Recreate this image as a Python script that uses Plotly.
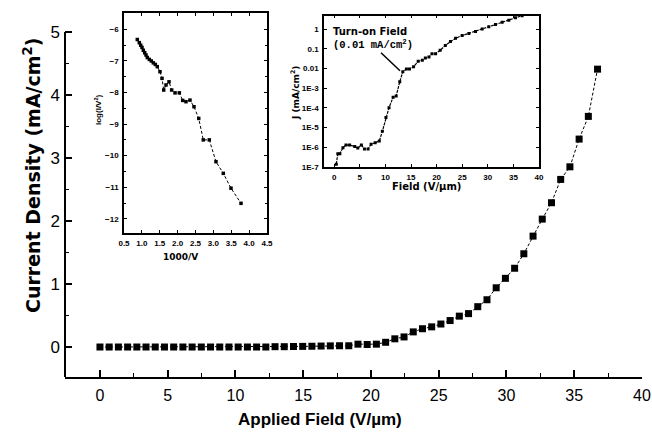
import plotly.graph_objects as go

# ---------------- data ----------------
field_main = [0, 0.68, 1.36, 2.04, 2.72, 3.40, 4.08, 4.76, 5.44, 6.12, 6.80, 7.48, 8.16, 8.84,
              9.52, 10.20, 10.88, 11.56, 12.24, 12.92, 13.60, 14.28, 14.96, 15.64, 16.32, 17.00,
              17.68, 18.36, 19.04, 19.72, 20.40, 21.08, 21.76, 22.44, 23.12, 23.80, 24.48, 25.16,
              25.84, 26.52, 27.20, 27.88, 28.56, 29.24, 29.92, 30.60, 31.28, 31.96, 32.64, 33.32,
              34.00, 34.68, 35.36, 36.04, 36.72]
current_main = [0, 0, 0, 0, 0, 0, 0, 0, 0, 0, 0, 0, 0, 0, 0, 0, 0, 0, 0,
                0.005, 0.005, 0.008, 0.01, 0.012, 0.015, 0.018, 0.02, 0.02, 0.045, 0.04, 0.045,
                0.075, 0.13, 0.16, 0.24, 0.29, 0.32, 0.365, 0.42, 0.49, 0.53, 0.64, 0.75, 0.94,
                1.09, 1.25, 1.48, 1.76, 2.03, 2.29, 2.66, 2.86, 3.30, 3.66, 4.41]

fn_x = [0.872, 0.928, 0.967, 1.003, 1.040, 1.079, 1.115, 1.152, 1.208, 1.264, 1.320, 1.376,
        1.431, 1.507, 1.563, 1.611, 1.675, 1.759, 1.834, 1.927, 2.047, 2.142, 2.234, 2.346,
        2.458, 2.590, 2.718, 2.886, 3.073, 3.278, 3.493, 3.773]
fn_y = [-6.32, -6.42, -6.50, -6.57, -6.66, -6.74, -6.81, -6.89, -6.95, -7.00, -7.06, -7.11,
        -7.18, -7.34, -7.55, -7.92, -7.76, -7.66, -7.92, -8.01, -8.01, -8.25, -8.29, -8.24,
        -8.45, -8.82, -9.50, -9.50, -10.19, -10.56, -11.03, -11.51]

log_field = [0.4, 0.7, 1.1, 1.7, 2.3, 3.0, 4.0, 4.6, 5.3, 5.9, 6.6, 7.2, 8.0, 8.8, 9.4, 10.1,
             10.7, 11.5, 12.1, 12.8, 13.4, 14.1, 14.7, 15.5, 16.4, 17.2, 17.8, 18.5, 19.1, 19.8,
             20.7, 21.7, 22.7, 23.7, 25.0, 26.3, 27.6, 28.9, 30.2, 31.5, 32.8, 34.1, 35.4, 36.7]
log_current = [1.35e-7, 4.6e-7, 4.6e-7, 9.3e-7, 1.26e-6, 1.26e-6, 1.07e-6, 8.9e-7, 1.26e-6,
               7.9e-7, 7.9e-7, 1.4e-6, 1.66e-6, 2.0e-6, 6.3e-6, 3.2e-5, 1.0e-4, 3.4e-4, 4.0e-4,
               2.1e-3, 6.8e-3, 9.3e-3, 9.3e-3, 1.2e-2, 2.3e-2, 2.6e-2, 3.4e-2, 3.8e-2, 5.6e-2,
               5.6e-2, 8.3e-2, 0.148, 0.234, 0.34, 0.47, 0.60, 0.76, 1.0, 1.32, 1.70, 2.24, 2.82,
               3.72, 4.8]

main_xticks = [0, 5, 10, 15, 20, 25, 30, 35, 40]
main_yticks = [0, 1, 2, 3, 4, 5]
fn_xticks = [0.5, 1.0, 1.5, 2.0, 2.5, 3.0, 3.5, 4.0, 4.5]
fn_xtext = ["0.5", "1.0", "1.5", "2.0", "2.5", "3.0", "3.5", "4.0", "4.5"]
fn_yticks = [-6, -7, -8, -9, -10, -11, -12]
log_xticks = [0, 5, 10, 15, 20, 25, 30, 35, 40]
log_yticks = [1e-7, 1e-6, 1e-5, 1e-4, 1e-3, 1e-2, 1e-1, 1]
log_ytext = ["1E-7", "1E-6", "1E-5", "1E-4", "1E-3", "0.01", "0.1", "1"]

# ---------------- layout helpers ----------------
W, H = 652, 436
L, R, T, B = 65, 10, 12, 59
PW, PH = W - L - R, H - T - B
Y_BOTTOM = -0.476
Y_TOP = 5.317


def px_x(px):
    return (px - L) / PW


def px_y(py):
    return (H - B - py) / PH


fig = go.Figure()

fig.add_trace(go.Scatter(
    x=field_main, y=current_main, mode="lines+markers",
    line=dict(color="black", width=1, dash="3px,2px"),
    marker=dict(symbol="square", size=7, color="black"),
    xaxis="x", yaxis="y", showlegend=False))

fig.add_trace(go.Scatter(
    x=fn_x, y=fn_y, mode="lines+markers",
    line=dict(color="black", width=1, dash="3px,2px"),
    marker=dict(symbol="square", size=3.5, color="black"),
    xaxis="x2", yaxis="y2", showlegend=False))

fig.add_trace(go.Scatter(
    x=log_field, y=log_current, mode="lines+markers",
    line=dict(color="black", width=1.2, dash="3px,1px"),
    marker=dict(symbol="square", size=3, color="black"),
    xaxis="x3", yaxis="y3", showlegend=False))

bold_small = dict(family="Liberation Sans, Arial", size=8, color="black", weight="bold")

fig.update_layout(
    template="none",
    width=W, height=H,
    margin=dict(l=L, r=R, t=T, b=B, autoexpand=False),
    paper_bgcolor="white", plot_bgcolor="white",
    xaxis=dict(domain=[0, 1], range=[-2.58, 40], tickvals=main_xticks, automargin=False,
               ticks="inside", ticklen=7, tickwidth=1.5, tickcolor="black",
               showline=True, linewidth=2, linecolor="black",
               showgrid=False, zeroline=False,
               minor=dict(tickvals=[2.5, 7.5, 12.5, 17.5, 22.5, 27.5, 32.5, 37.5],
                          ticks="inside", ticklen=4, tickwidth=1.2, tickcolor="black",
                          showgrid=False),
               tickfont=dict(family="Liberation Sans, Arial", size=16, color="black"),
               ticklabelstandoff=3),
    yaxis=dict(domain=[0, 1], range=[Y_BOTTOM, Y_TOP], tickvals=main_yticks, automargin=False,
               ticks="inside", ticklen=7, tickwidth=1.5, tickcolor="black",
               showline=False, showgrid=False, zeroline=False,
               minor=dict(dtick=0.5, tick0=0, ticks="inside", ticklen=4, tickwidth=1.2,
                          tickcolor="black", showgrid=False),
               tickfont=dict(family="Liberation Sans, Arial", size=17, color="black"),
               ticklabelstandoff=4),
    xaxis2=dict(domain=[px_x(124), px_x(267)], anchor="y2", range=[0.5, 4.5], automargin=False,
                tickvals=fn_xticks, ticktext=fn_xtext,
                ticks="inside", ticklen=3, tickwidth=1, tickcolor="black",
                showline=True, mirror="ticks", linewidth=1.5, linecolor="black",
                showgrid=False, zeroline=False, tickfont=bold_small, ticklabelstandoff=2),
    yaxis2=dict(domain=[px_y(233), px_y(13)], anchor="x2", range=[-12.45, -5.48],
                automargin=False, tickvals=fn_yticks,
                ticks="inside", ticklen=3, tickwidth=1, tickcolor="black",
                showline=True, mirror="ticks", linewidth=1.5, linecolor="black",
                minor=dict(dtick=0.5, ticks="inside", ticklen=2, tickcolor="black",
                           showgrid=False),
                showgrid=False, zeroline=False, tickfont=bold_small, ticklabelstandoff=2),
    xaxis3=dict(domain=[px_x(324), px_x(539)], anchor="y3", range=[-2, 40], automargin=False,
                tickvals=log_xticks,
                ticks="inside", ticklen=3, tickwidth=1, tickcolor="black",
                showline=True, mirror="ticks", linewidth=1.5, linecolor="black",
                showgrid=False, zeroline=False, tickfont=bold_small, ticklabelstandoff=2),
    yaxis3=dict(domain=[px_y(166.7), px_y(15.7)], anchor="x3", type="log", automargin=False,
                range=[-7, 0.68], tickvals=log_yticks, ticktext=log_ytext,
                ticks="inside", ticklen=3, tickwidth=1, tickcolor="black",
                showline=True, mirror="ticks", linewidth=1.5, linecolor="black",
                showgrid=False, zeroline=False, tickfont=bold_small, ticklabelstandoff=2),
)

# main y axis line (only up to 5)
fig.add_shape(type="line", xref="paper", yref="y", x0=0, x1=0, y0=Y_BOTTOM, y1=5,
              line=dict(color="black", width=2))

# turn-on field pointer
fig.add_shape(type="line", xref="paper", yref="paper",
              x0=px_x(381), y0=px_y(52.7), x1=px_x(400), y1=px_y(70.7),
              line=dict(color="black", width=1.5))

ann = []
ann.append(dict(text="Applied Field (V/µm)", x=px_x(320), y=px_y(419), xref="paper", yref="paper",
                showarrow=False, xanchor="center", yanchor="middle",
                font=dict(family="Liberation Sans, Arial", size=17, color="black", weight="bold")))
ann.append(dict(text="Current Density (mA/cm<sup>2</sup>)", x=px_x(32), y=px_y(175),
                xref="paper", yref="paper", textangle=-90,
                showarrow=False, xanchor="center", yanchor="middle",
                font=dict(family="DejaVu Sans", size=19, color="black", weight="bold")))
ann.append(dict(text="log(I/V<sup>2</sup>)", x=px_x(98), y=px_y(110), xref="paper", yref="paper",
                textangle=-90, showarrow=False, xanchor="center", yanchor="middle",
                font=dict(family="Liberation Sans, Arial", size=8, color="black", weight="bold")))
ann.append(dict(text="1000/V", x=px_x(180), y=px_y(257), xref="paper", yref="paper",
                showarrow=False, xanchor="center", yanchor="middle",
                font=dict(family="DejaVu Sans", size=9, color="black", weight="bold")))
ann.append(dict(text="J (mA/cm<sup>2</sup>)", x=px_x(295), y=px_y(93), xref="paper", yref="paper",
                textangle=-90, showarrow=False, xanchor="center", yanchor="middle",
                font=dict(family="DejaVu Sans", size=9, color="black", weight="bold")))
ann.append(dict(text="Field (V/µm)", x=px_x(426), y=px_y(186), xref="paper", yref="paper",
                showarrow=False, xanchor="center", yanchor="middle",
                font=dict(family="DejaVu Sans", size=10, color="black", weight="bold")))
ann.append(dict(text="Turn-on Field", x=px_x(331), y=px_y(31), xref="paper", yref="paper",
                showarrow=False, xanchor="left", yanchor="middle",
                font=dict(family="DejaVu Sans", size=10, color="black", weight="bold")))
ann.append(dict(text="(0.01 mA/cm<sup>2</sup>)", x=px_x(331), y=px_y(45), xref="paper", yref="paper",
                showarrow=False, xanchor="left", yanchor="middle",
                font=dict(family="Liberation Mono", size=10.5, color="black", weight="bold")))
fig.update_layout(annotations=ann)

fig.write_html("out.html", config={"displayModeBar": False},
               post_script="document.body.style.margin='0px';document.body.style.padding='0px';")
